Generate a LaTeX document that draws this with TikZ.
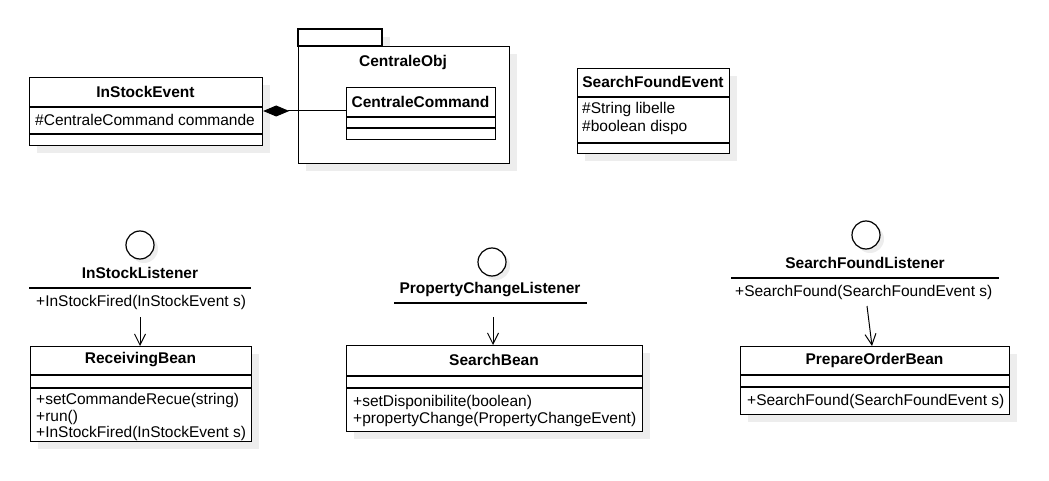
\documentclass[tikz,border=0pt]{standalone}
\usepackage{fontspec}
\setmainfont{Liberation Sans}
\usetikzlibrary{arrows.meta}
\tikzset{
  box/.style={draw,fill=white,line width=1.2pt},
  shade/.style={fill=black!7,draw=none},
  title/.style={font=\fontsize{15.5}{18}\selectfont\bfseries,inner sep=0pt},
  txt/.style={font=\fontsize{15.5}{18}\selectfont,anchor=west,inner sep=0pt},
  sep/.style={line width=1.2pt},
  use/.style={line width=1pt,-{Straight Barb[length=11pt,width=11pt,line width=1pt]}},
  iface/.style={circle,draw,fill=white,line width=1.2pt,minimum size=28pt,inner sep=0pt}
}
\begin{document}
\begin{tikzpicture}[x=1pt,y=-1pt]
   \useasboundingbox (0,0) rectangle (1049,481);
   % shadows
   \fill[shade] (37,85) rectangle (270,153);
   \fill[shade] (306,37) rectangle (390,54);
   \fill[shade] (306,54) rectangle (517,171);
   \fill[shade] (585,76) rectangle (737,161);
   \fill[shade] (38,354) rectangle (259,449);
   \fill[shade] (354,353) rectangle (650,439);
   \fill[shade] (748,354) rectangle (1017,422);
   \foreach \cx/\cy in {140/245,492/262,866/235}
     \fill[shade] (\cx+4,\cy+4) circle (14);
   % InStockEvent
   \node[box,anchor=north west,minimum width=233pt,minimum height=68pt] (ise) at (29,77) {};
   \draw[sep] (29,107) -- (262,107);
   \draw[sep] (29,134) -- (262,134);
   \node[title] at (145.5,92) {InStockEvent};
   \node[txt] at (35,120) {\#CentraleCommand commande};
   % package CentraleObj
   \draw[box] (298,29) rectangle (382,46);
   \node[box,anchor=north west,minimum width=211pt,minimum height=117pt] (pkg) at (298,46) {};
   \node[title] at (403,62) {CentraleObj};
   \node[box,anchor=north west,minimum width=149pt,minimum height=52pt] (cc) at (346,87) {};
   \draw[sep] (346,117) -- (495,117);
   \draw[sep] (346,128) -- (495,128);
   \node[title] at (420.5,102) {CentraleCommand};
   \draw[line width=1pt,-{Diamond[length=26pt,width=11pt]}] (cc.west |- 0,111) -- (ise.east |- 0,111);
   % SearchFoundEvent
   \node[box,anchor=north west,minimum width=152pt,minimum height=85pt] (sfe) at (577,68) {};
   \draw[sep] (577,97) -- (729,97);
   \draw[sep] (577,143) -- (729,143);
   \node[title] at (653,82) {SearchFoundEvent};
   \node[txt] at (582,109) {\#String libelle};
   \node[txt] at (582,127) {\#boolean dispo};
   % listeners
   \node[iface] (isl) at (140,245) {};
   \node[title] at (140,273) {InStockListener};
   \draw[sep] (29,288) -- (251,288);
   \node[txt] (islm) at (36,302) {+InStockFired(InStockEvent s)};
   \coordinate (islb) at (140,317);
   \node[iface] (pcl) at (492,262) {};
   \node[title] at (490,290) {PropertyChangeListener};
   \draw[sep] (394,303) -- (587,303);
   \coordinate (pclb) at (493,317);
   \node[iface] (sfl) at (866,235) {};
   \node[title] at (865,263) {SearchFoundListener};
   \draw[sep] (731,278) -- (999,278);
   \node[txt] (sflm) at (735,292) {+SearchFound(SearchFoundEvent s)};
   \coordinate (sflb) at (867,306);
   % ReceivingBean
   \node[box,anchor=north west,minimum width=221pt,minimum height=95pt] (recv) at (30,346) {};
   \draw[sep] (30,375) -- (251,375);
   \draw[sep] (30,388) -- (251,388);
   \node[title] at (140.5,360) {ReceivingBean};
   \node[txt] at (36,400) {+setCommandeRecue(string)};
   \node[txt] at (36,417) {+run()};
   \node[txt] at (36,433) {+InStockFired(InStockEvent s)};
   % SearchBean
   \node[box,anchor=north west,minimum width=296pt,minimum height=86pt] (sb) at (346,345) {};
   \draw[sep] (346,376) -- (642,376);
   \draw[sep] (346,388) -- (642,388);
   \node[title] at (494,360) {SearchBean};
   \node[txt] at (353,402) {+setDisponibilite(boolean)};
   \node[txt] at (353,419) {+propertyChange(PropertyChangeEvent)};
   % PrepareOrderBean
   \node[box,anchor=north west,minimum width=269pt,minimum height=68pt] (pob) at (740,346) {};
   \draw[sep] (740,375) -- (1009,375);
   \draw[sep] (740,387) -- (1009,387);
   \node[title] at (874.5,360) {PrepareOrderBean};
   \node[txt] at (747,401) {+SearchFound(SearchFoundEvent s)};
   % dependencies
   \draw[use] (islb) -- (islb |- recv.north);
   \draw[use] (pclb) -- (pclb |- sb.north);
   \draw[use] (sflb) -- (872,346);
\end{tikzpicture}
\end{document}
